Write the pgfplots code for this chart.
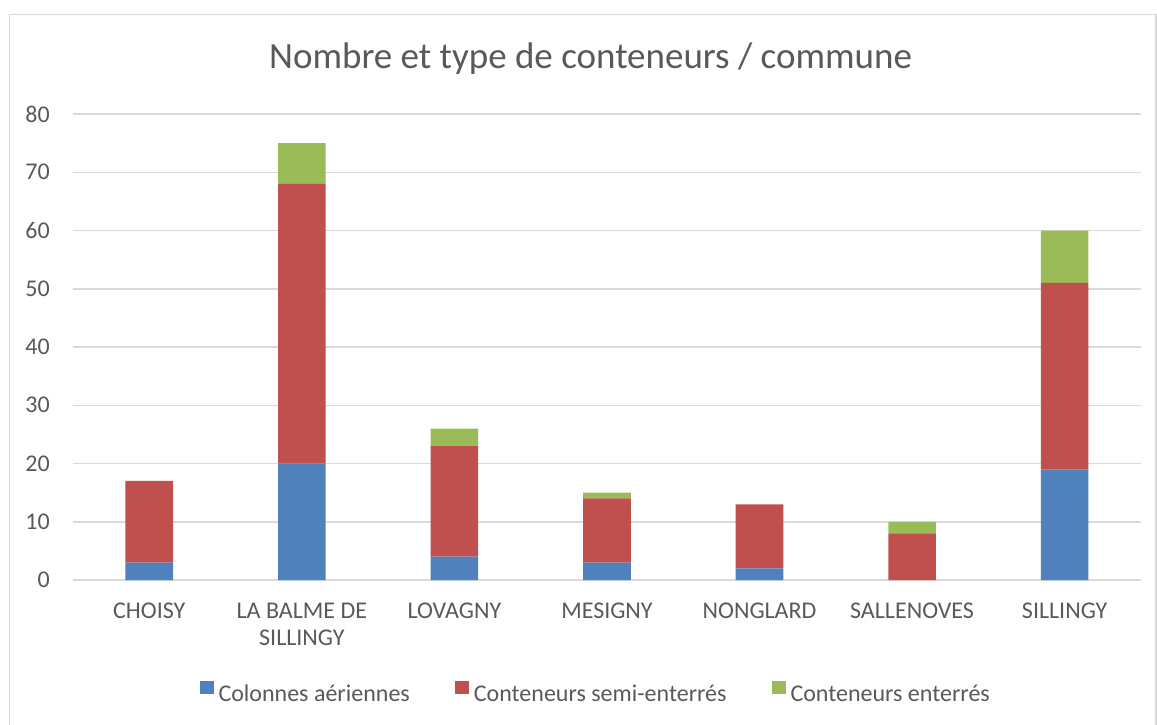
\documentclass[border=0pt]{standalone}
\usepackage{fontspec}
\setmainfont{Carlito}
\usepackage{pgfplots}
\pgfplotsset{compat=1.18}
\definecolor{cblue}{HTML}{4F81BD}
\definecolor{cred}{HTML}{C0504D}
\definecolor{cgreen}{HTML}{9BBB59}
\definecolor{txt}{HTML}{595959}
\definecolor{gridc}{HTML}{D9D9D9}
\begin{document}
\begin{tikzpicture}[x=1pt,y=1pt]
\useasboundingbox (0,0) rectangle (1157,724);
\draw[gridc, line width=1.2pt] (9.5,-10) rectangle (1156,709.5);
\node[text=txt, font=\fontsize{37}{44}\selectfont, anchor=base, inner sep=0pt] at (590.5,655) {Nombre et type de conteneurs / commune};
\begin{axis}[
 at={(73pt,144pt)}, anchor=south west,
 scale only axis, width=1068pt, height=466pt,
 ybar stacked, bar width=47.6pt,
 xmin=-0.5, xmax=6.5, ymin=0, ymax=80,
 xtick={0,...,6},
 xticklabels={CHOISY, {LA BALME DE\\SILLINGY}, LOVAGNY, MESIGNY, NONGLARD, SALLENOVES, SILLINGY},
 ytick={0,10,...,80},
 axis line style={draw=none}, major tick length=0pt,
 ymajorgrids, grid style={gridc, line width=1.5pt},
 tick label style={text=txt, font=\fontsize{24}{27}\selectfont},
 xticklabel style={align=center, anchor=north, inner sep=0pt, yshift=-23pt},
 yticklabel style={anchor=east, inner sep=0pt, xshift=-23pt},
 /pgf/number format/assume math mode=true,
 legend style={draw=none, fill=none, at={(0.4885,-0.240)}, anchor=center,
   legend columns=3,
   /tikz/every odd column/.append style={column sep=5pt},
   /tikz/every even column/.append style={column sep=45pt},
   font=\fontsize{24}{29}\selectfont, text=txt, inner sep=0pt,
   nodes={inner sep=0pt}},
 legend cell align=left,
 legend image code/.code={\fill[#1] (0pt,0pt) rectangle (14pt,13pt);},
]
\addplot[fill=cblue, draw=none] coordinates {(0,3) (1,20) (2,4) (3,3) (4,2) (5,0) (6,19)};
\addplot[fill=cred, draw=none] coordinates {(0,14) (1,48) (2,19) (3,11) (4,11) (5,8) (6,32)};
\addplot[fill=cgreen, draw=none] coordinates {(0,0) (1,7) (2,3) (3,1) (4,0) (5,2) (6,9)};
\legend{Colonnes aériennes, Conteneurs semi-enterrés, Conteneurs enterrés}
\end{axis}
\end{tikzpicture}
\end{document}
